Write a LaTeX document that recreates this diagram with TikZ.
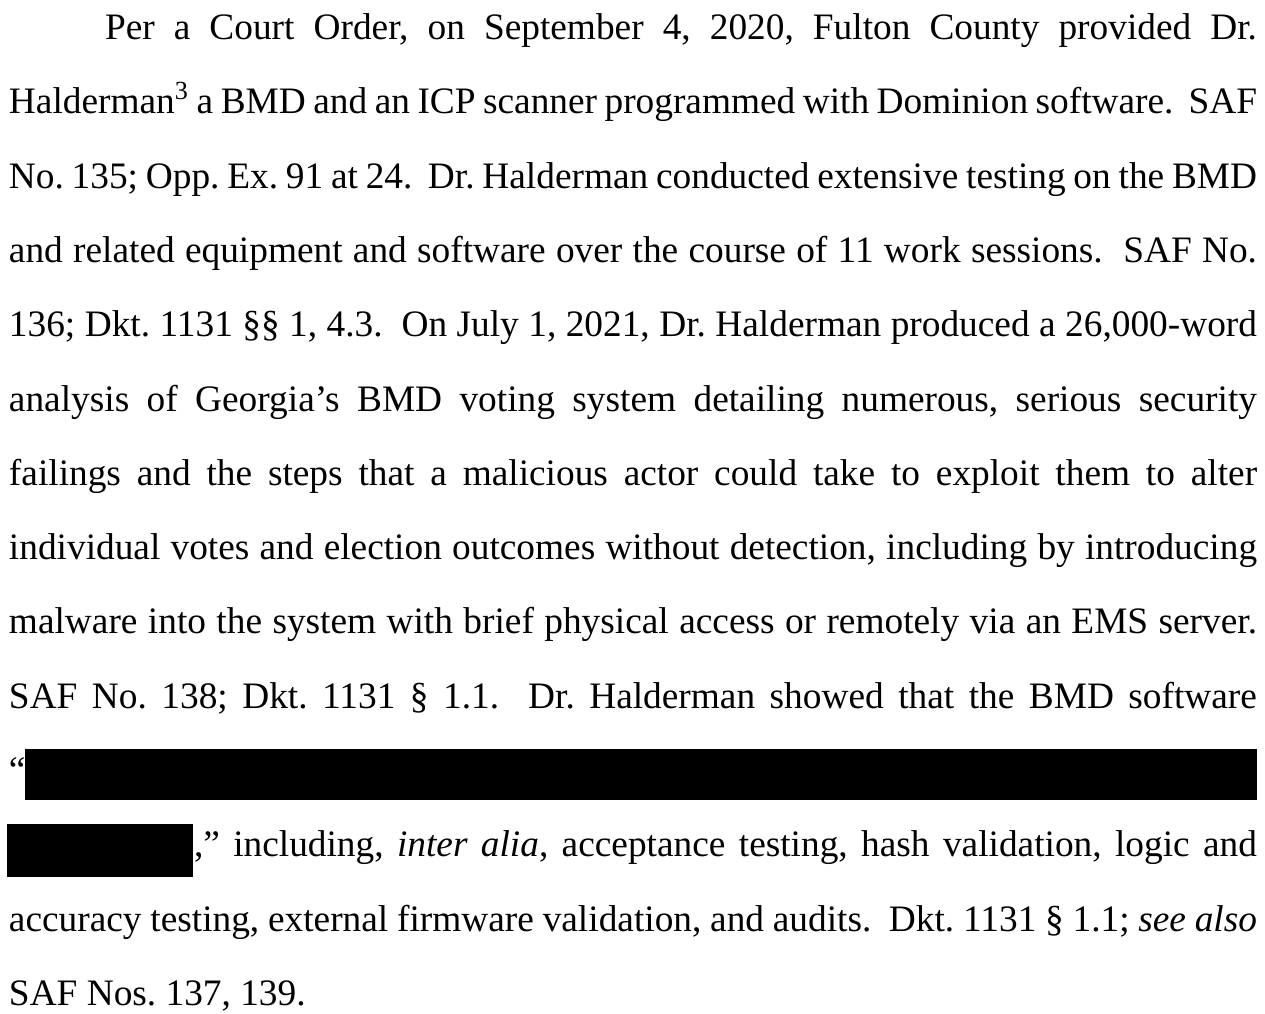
\documentclass[tikz,border=0pt]{standalone}
\usepackage{fontspec}
\setmainfont{Liberation Serif}
\newcommand\jl[2]{\hbox to #1{#2}}
\newcommand\dsp{\ \ }
\tikzset{
  txtline/.style={anchor=base west, inner sep=0pt, outer sep=0pt, font=\fontsize{14}{16}\selectfont},
  redact/.style={fill=black, draw=none}
}
\begin{document}
\begin{tikzpicture}[x=0.375pt,y=-0.375pt]
\useasboundingbox[fill=white] (0,0) rectangle (1265,1013);
\frenchspacing
\node[txtline] (l0) at (105,39.5) {\jl{432pt}{Per a Court Order, on September 4, 2020, Fulton County provided Dr.}};
\node[txtline] (l1) at (9,113.8) {\jl{468pt}{Halderman\textsuperscript{3} a BMD and an ICP scanner programmed with Dominion software.\dsp SAF}};
\node[txtline] (l2) at (9,188.1) {\jl{468pt}{No. 135; Opp. Ex. 91 at 24.\dsp Dr. Halderman conducted extensive testing on the BMD}};
\node[txtline] (l3) at (9,262.4) {\jl{468pt}{and related equipment and software over the course of 11 work sessions.\dsp SAF No.}};
\node[txtline] (l4) at (9,336.7) {\jl{468pt}{136; Dkt. 1131 §§ 1, 4.3.\dsp On July 1, 2021, Dr. Halderman produced a 26,000-word}};
\node[txtline] (l5) at (9,411) {\jl{468pt}{analysis of Georgia’s BMD voting system detailing numerous, serious security}};
\node[txtline] (l6) at (9,485.3) {\jl{468pt}{failings and the steps that a malicious actor could take to exploit them to alter}};
\node[txtline] (l7) at (9,559.6) {\jl{468pt}{individual votes and election outcomes without detection, including by introducing}};
\node[txtline] (l8) at (9,633.9) {\jl{468pt}{malware into the system with brief physical access or remotely via an EMS server.}};
\node[txtline] (l9) at (9,708.2) {\jl{468pt}{SAF No. 138; Dkt. 1131 § 1.1.\dsp Dr. Halderman showed that the BMD software}};
\node[txtline] (l10) at (9,782.5) {“};
\fill[redact] (25,749) rectangle (1257,800);
\fill[redact] (7,824) rectangle (193,877);
\node[txtline] (l11) at (194,856.8) {\jl{398.6pt}{,” including, \textit{inter alia}, acceptance testing, hash validation, logic and}};
\node[txtline] (l12) at (9,931.1) {\jl{468pt}{accuracy testing, external firmware validation, and audits.\dsp Dkt. 1131 § 1.1; \textit{see also}}};
\node[txtline] (l13) at (9,1005.4) {SAF Nos. 137, 139.};
\end{tikzpicture}
\end{document}
